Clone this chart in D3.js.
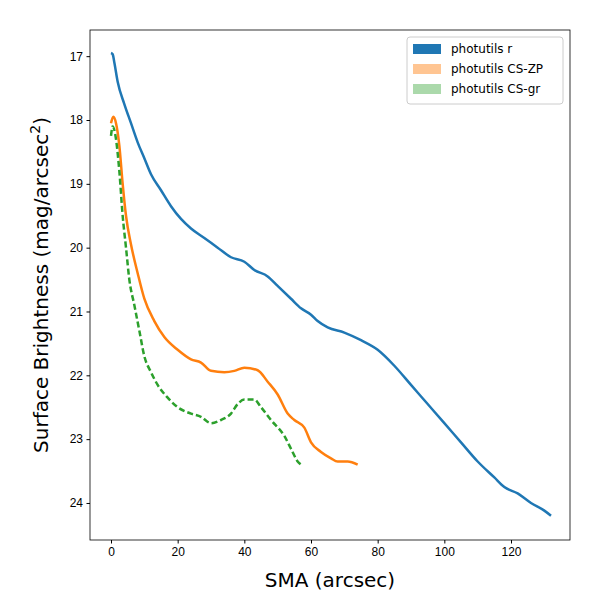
<!DOCTYPE html>
<html><head><meta charset="utf-8">
<script src="https://cdn.jsdelivr.net/npm/d3@7"></script>
<style>body{margin:0;background:#fff}svg{font-family:"DejaVu Sans",sans-serif}</style>
</head><body><svg id="c" width="600" height="600"></svg>
<script>
const rSma = [0,0.5,1,2,4,6,8,10,12,15,18,21,24,28,32,36,40,43,47,50,54,57,60,62,65,70,75,80,85,90,95,100,105,110,115,118,122,126,130,132];
const rSb  = [16.95,16.97,17.1,17.4,17.75,18.05,18.35,18.6,18.85,19.1,19.35,19.55,19.7,19.85,20.0,20.15,20.22,20.35,20.45,20.6,20.8,20.95,21.05,21.15,21.25,21.33,21.45,21.6,21.85,22.15,22.45,22.75,23.05,23.35,23.6,23.75,23.85,24.0,24.12,24.2];
const zpSma = [0,0.7,1.5,2.5,3.5,4.5,6,8,10,13,16,20,24,27,30,34,37,40,44,47,50,53,55,58,60,63,66,68,71,74];
const zpSb  = [18.05,17.95,18.05,18.4,19.0,19.5,19.95,20.4,20.8,21.15,21.4,21.6,21.75,21.8,21.93,21.95,21.93,21.88,21.92,22.1,22.3,22.6,22.7,22.82,23.05,23.2,23.3,23.35,23.35,23.4];
const grSma = [0,0.5,1.5,2.5,3.5,4.5,5.5,7,8.5,10,12,14,17,20,24,27,30,33,36,38,40,43,45,48,52,54,56,57];
const grSb  = [18.25,18.1,18.3,18.8,19.5,20.0,20.5,20.9,21.3,21.7,21.95,22.15,22.35,22.5,22.6,22.65,22.75,22.7,22.6,22.45,22.38,22.38,22.5,22.7,22.95,23.15,23.35,23.4];
const xTicks = [0,20,40,60,80,100,120];
const yTicks = [17,18,19,20,21,22,23,24];

const L=90,R=570,T=30,B=540;
const svg=d3.select("#c");
const x=d3.scaleLinear().domain([-6.3,137.7]).range([L,R]);
const y=d3.scaleLinear().domain([16.59,24.58]).range([T,B]);

const line=d3.line().x(d=>x(d[0])).y(d=>y(d[1])).curve(d3.curveMonotoneX);
const series=[
  {name:"photutils r",sma:rSma,sb:rSb,color:"#1f77b4",dash:null,patch:"#1f77b4",op:1},
  {name:"photutils CS-ZP",sma:zpSma,sb:zpSb,color:"#ff7f0e",dash:null,patch:"#ff7f0e",op:0.45},
  {name:"photutils CS-gr",sma:grSma,sb:grSb,color:"#2ca02c",dash:"6,3",patch:"#2ca02c",op:0.4}
];
series.forEach(s=>{
  svg.append("path").datum(d3.zip(s.sma,s.sb)).attr("d",line)
    .attr("fill","none").attr("stroke",s.color).attr("stroke-width",2.5)
    .attr("stroke-dasharray",s.dash);
});

svg.append("g").attr("transform",`translate(0,${B})`)
  .call(d3.axisBottom(x).tickValues(xTicks).tickSize(3.5).tickPadding(3.5))
  .call(g=>g.selectAll("text").attr("font-size",12).attr("fill","#000"));
svg.append("g").attr("transform",`translate(${L},0)`)
  .call(d3.axisLeft(y).tickValues(yTicks).tickSize(3.5).tickPadding(3.5))
  .call(g=>g.selectAll("text").attr("font-size",12).attr("fill","#000"));
svg.selectAll(".domain").remove();
svg.append("rect").attr("x",L).attr("y",T).attr("width",R-L).attr("height",B-T)
  .attr("fill","none").attr("stroke","#000").attr("stroke-width",0.8);

svg.append("text").attr("x",(L+R)/2).attr("y",587).attr("text-anchor","middle")
  .attr("font-size",20).text("SMA (arcsec)");
const yl=svg.append("text").attr("transform",`translate(48,${(T+B)/2}) rotate(-90)`)
  .attr("text-anchor","middle").attr("font-size",20);
yl.append("tspan").text("Surface Brightness (mag/arcsec");
yl.append("tspan").attr("font-size",14).attr("dy",-8).text("2");
yl.append("tspan").attr("dy",8).text(")");

const lg=svg.append("g").attr("transform","translate(407,37)");
lg.append("rect").attr("width",156).attr("height",67).attr("rx",3)
  .attr("fill","#fff").attr("stroke","#ccc");
series.forEach((s,i)=>{
  const g=lg.append("g").attr("transform",`translate(6,${7+i*20})`);
  g.append("rect").attr("width",28).attr("height",10).attr("fill",s.patch).attr("fill-opacity",s.op);
  g.append("text").attr("x",38).attr("y",9).attr("font-size",12).text(s.name);
});
</script></body></html>
